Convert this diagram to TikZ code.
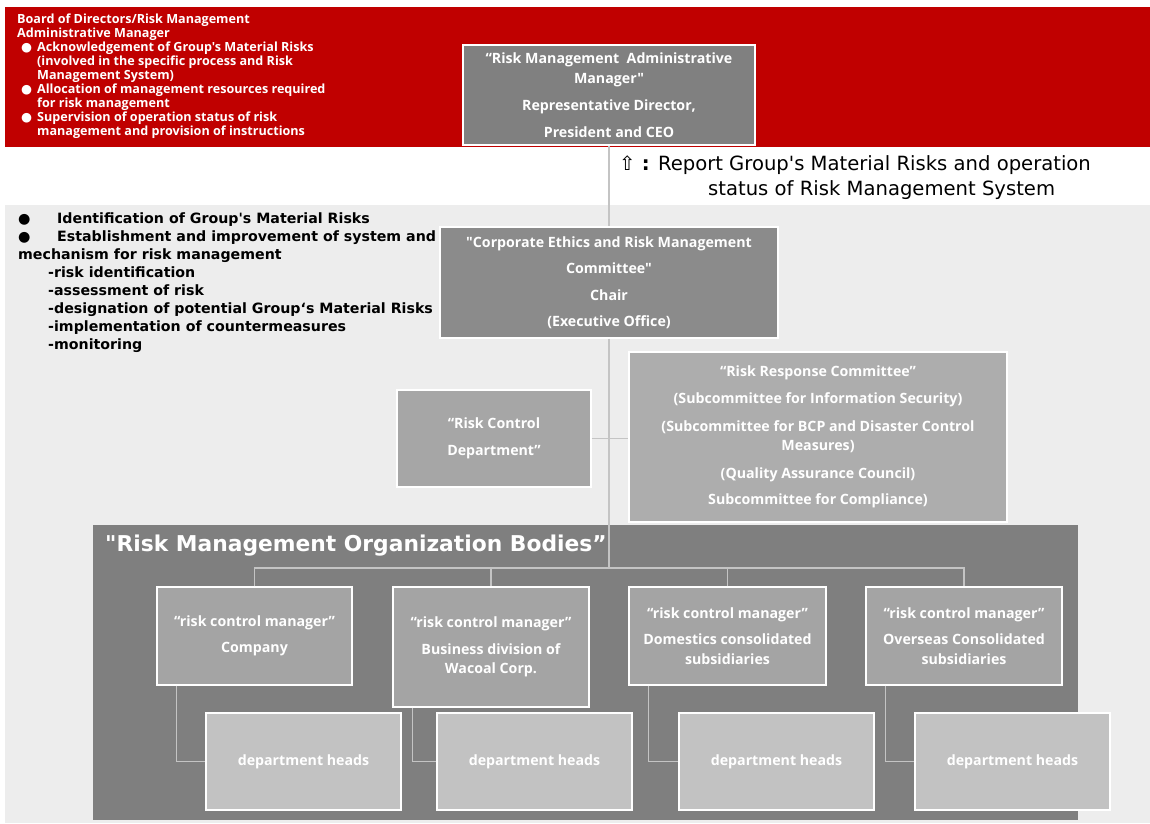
\documentclass[tikz,border=0pt]{standalone}
\usepackage{fontspec}
\setmainfont{Open Sans}[Ligatures=TeXOff]
\newfontfamily\dv{DejaVu Sans}
\usetikzlibrary{calc}

\definecolor{bandred}{HTML}{C00000}
\definecolor{paleback}{HTML}{EDEDED}
\definecolor{topgray}{HTML}{808080}
\definecolor{chairgray}{HTML}{8B8B8B}
\definecolor{ctrlgray}{HTML}{A6A6A6}
\definecolor{respgray}{HTML}{ADADAD}
\definecolor{orggray}{HTML}{7F7F7F}
\definecolor{mgrgray}{HTML}{A4A4A4}
\definecolor{headgray}{HTML}{C2C2C2}
\definecolor{linkgray}{HTML}{C4C4C4}

\newcommand\boxfont{\bfseries\fontsize{14.2}{19.5}\selectfont}

\begin{document}
\begin{tikzpicture}[x=1pt,y=-1pt,
  orgbox/.style={draw=white, line width=1.3pt, text=white, font=\boxfont,
                 align=center, inner sep=0pt},
  conn/.style={draw=linkgray, line width=1.4pt}]

\useasboundingbox (0,0) rectangle (1150,823);
\fill[white] (0,0) rectangle (1150,823);

% background bands
\fill[bandred] (5,7) rectangle (1150,147);
\fill[paleback] (5,205) rectangle (1150,823);

% board text in the red band
\node[anchor=north west, inner sep=0pt, text=white, align=left,
      font=\bfseries\fontsize{12.6}{14}\selectfont] (board) at (17,14)
 {Board of Directors/Risk Management\\
  Administrative Manager\\
  \hspace*{4pt}\makebox[16pt][l]{\dv ●}Acknowledgement of Group's Material Risks\\
  \hspace*{20pt}(involved in the specific process and Risk\\
  \hspace*{20pt}Management System)\\
  \hspace*{4pt}\makebox[16pt][l]{\dv ●}Allocation of management resources required\\
  \hspace*{20pt}for risk management\\
  \hspace*{4pt}\makebox[16pt][l]{\dv ●}Supervision of operation status of risk\\
  \hspace*{20pt}management and provision of instructions};

% committee duties list
\node[anchor=north west, inner sep=0pt, align=left,
      font=\dv\bfseries\fontsize{14.2}{18}\selectfont] (duties) at (18,213)
 {\makebox[39pt][l]{●}Identification of Group's Material Risks\\
  \makebox[39pt][l]{●}Establishment and improvement of system and\\
  mechanism for risk management\\
  \hspace*{30pt}-risk identification\\
  \hspace*{30pt}-assessment of risk\\
  \hspace*{30pt}-designation of potential Group‘s Material Risks\\
  \hspace*{30pt}-implementation of countermeasures\\
  \hspace*{30pt}-monitoring};

% reporting legend
\node[anchor=north west, inner sep=0pt, align=left,
      font=\dv\fontsize{19.6}{25}\selectfont] (legend) at (619,155)
 {⇧ \textbf{:} Report Group's Material Risks and operation\\
  \hspace*{89pt}status of Risk Management System};

% organization bodies frame
\node[fill=orggray, minimum width=985, minimum height=295, inner sep=0pt]
  (org) at (585.5,672.5) {};
\node[anchor=west, inner sep=0pt, text=white,
      font=\dv\bfseries\fontsize{21.8}{25}\selectfont] (orgtitle) at (105,546)
 {"Risk Management Organization Bodies”};

% main boxes
\node[orgbox, fill=topgray, minimum width=292, minimum height=100] (top) at (609,95)
 {“Risk Management\ \ Administrative\\Manager"\\[8pt]Representative Director,\\[7pt]President and CEO};
\node[orgbox, fill=chairgray, minimum width=338, minimum height=111] (chair) at (609,282.5)
 {"Corporate Ethics and Risk Management\\[7pt]Committee"\\[7pt]Chair\\[7pt](Executive Office)};
\node[orgbox, fill=ctrlgray, minimum width=194, minimum height=97] (ctrl) at (494,438.5)
 {“Risk Control\\[8pt]Department”};
\node[orgbox, fill=respgray, minimum width=378, minimum height=170] (resp) at (818,437)
 {“Risk Response Committee”\\[8pt](Subcommittee for Information Security)\\[8pt](Subcommittee for BCP and Disaster Control\\Measures)\\[8pt](Quality Assurance Council)\\[7pt]Subcommittee for Compliance)};

% risk control managers
\node[orgbox, fill=mgrgray, minimum width=195, minimum height=98] (m1) at (254.5,636)
 {“risk control manager”\\[7pt]Company};
\node[orgbox, fill=mgrgray, minimum width=196, minimum height=120] (m2) at (491,647)
 {“risk control manager”\\[7pt]Business division of\\Wacoal Corp.};
\node[orgbox, fill=mgrgray, minimum width=197, minimum height=98] (m3) at (727.5,636)
 {“risk control manager”\\[7pt]Domestics consolidated\\subsidiaries};
\node[orgbox, fill=mgrgray, minimum width=196, minimum height=98] (m4) at (964,636)
 {“risk control manager”\\[7pt]Overseas Consolidated\\subsidiaries};

% department heads
\node[orgbox, fill=headgray, minimum width=195, minimum height=97] (d1) at (303.5,761.5) {department heads};
\node[orgbox, fill=headgray, minimum width=195, minimum height=97] (d2) at (534.5,761.5) {department heads};
\node[orgbox, fill=headgray, minimum width=195, minimum height=97] (d3) at (776.5,761.5) {department heads};
\node[orgbox, fill=headgray, minimum width=195, minimum height=97] (d4) at (1012.5,761.5) {department heads};

% connectors
\coordinate (bus) at (609,568);
\draw[conn] (top.south) -- (chair.north);
\draw[conn] (chair.south) -- (bus);
\draw[conn] (ctrl.east) -- (ctrl.east -| resp.west);
\draw[conn] (m1.north) |- (bus) -| (m4.north);
\draw[conn] (m2.north) -- (m2.north |- bus);
\draw[conn] (m3.north) -- (m3.north |- bus);
\foreach \i in {1,2,3,4}
  \draw[conn] ([xshift=20pt]m\i.south west) |- (d\i.west);
\end{tikzpicture}
\end{document}
